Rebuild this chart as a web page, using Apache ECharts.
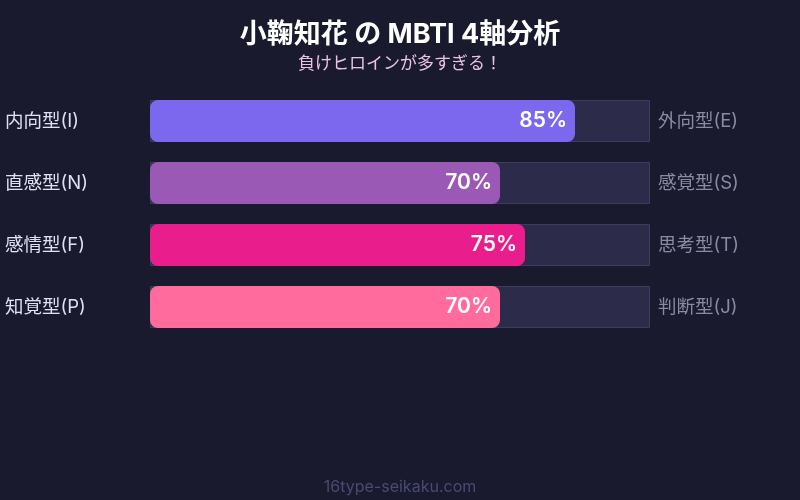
<!DOCTYPE html>
<html><head><meta charset="utf-8">
<script src="https://cdn.jsdelivr.net/npm/echarts@6/dist/echarts.min.js"></script>
<style>html,body{margin:0;padding:0;background:#1a1a2e;}#c{width:800px;height:500px;}</style>
</head><body><div id="c"></div>
<script>
const leftLabels = ['内向型(I)', '直感型(N)', '感情型(F)', '知覚型(P)'];
const rightLabels = ['外向型(E)', '感覚型(S)', '思考型(T)', '判断型(J)'];
const values = [85, 70, 75, 70];
const barColors = ['#7b68ee', '#9b59b6', '#e91e8c', '#ff6b9d'];
const fullScale = [100, 100, 100, 100];

const FONT = "Inter, 'Noto Sans CJK JP', sans-serif";
const chart = echarts.init(document.getElementById('c'));
chart.setOption({
  backgroundColor: '#1a1a2e',
  textStyle: { fontFamily: FONT },
  title: [
    { text: '小鞠知花 の MBTI 4軸分析', left: 'center', top: 16,
      textStyle: { color: '#ffffff', fontSize: 27, fontWeight: 'bold', fontFamily: FONT } },
    { text: '負けヒロインが多すぎる！', left: 'center', top: 50,
      textStyle: { color: '#e8c4e4', fontSize: 17, fontWeight: 'normal', fontFamily: FONT } },
    { text: '16type-seikaku.com', left: 'center', top: 474,
      textStyle: { color: '#4a4a6e', fontSize: 16, fontWeight: 'normal', fontFamily: FONT } }
  ],
  grid: { left: 150, right: 150, top: 90, height: 248 },
  xAxis: { type: 'value', min: 0, max: 100, show: false },
  yAxis: [
    { type: 'category', data: leftLabels, inverse: true, position: 'left',
      axisLine: { show: false }, axisTick: { show: false },
      axisLabel: { color: '#e0e0f0', fontSize: 18.5, align: 'left', margin: 145, fontFamily: FONT } },
    { type: 'category', data: rightLabels, inverse: true, position: 'right',
      axisLine: { show: false }, axisTick: { show: false },
      axisLabel: { color: '#8a8aa2', fontSize: 18.5, align: 'left', margin: 8, fontFamily: FONT } }
  ],
  series: [
    { type: 'bar', data: fullScale, barWidth: 42, silent: true, z: 1,
      itemStyle: { color: '#2d2b4a', borderColor: '#3e3c5e', borderWidth: 1 } },
    { type: 'bar', data: values.map((v, i) => ({ value: v, itemStyle: { color: barColors[i] } })),
      barWidth: 42, barGap: '-100%', z: 2,
      itemStyle: { borderRadius: 8 },
      label: { show: true, position: 'insideRight', offset: [-3, 0], formatter: '{c}%',
        color: '#ffffff', fontSize: 21, fontWeight: 600, fontFamily: FONT } }
  ]
});
</script></body></html>
